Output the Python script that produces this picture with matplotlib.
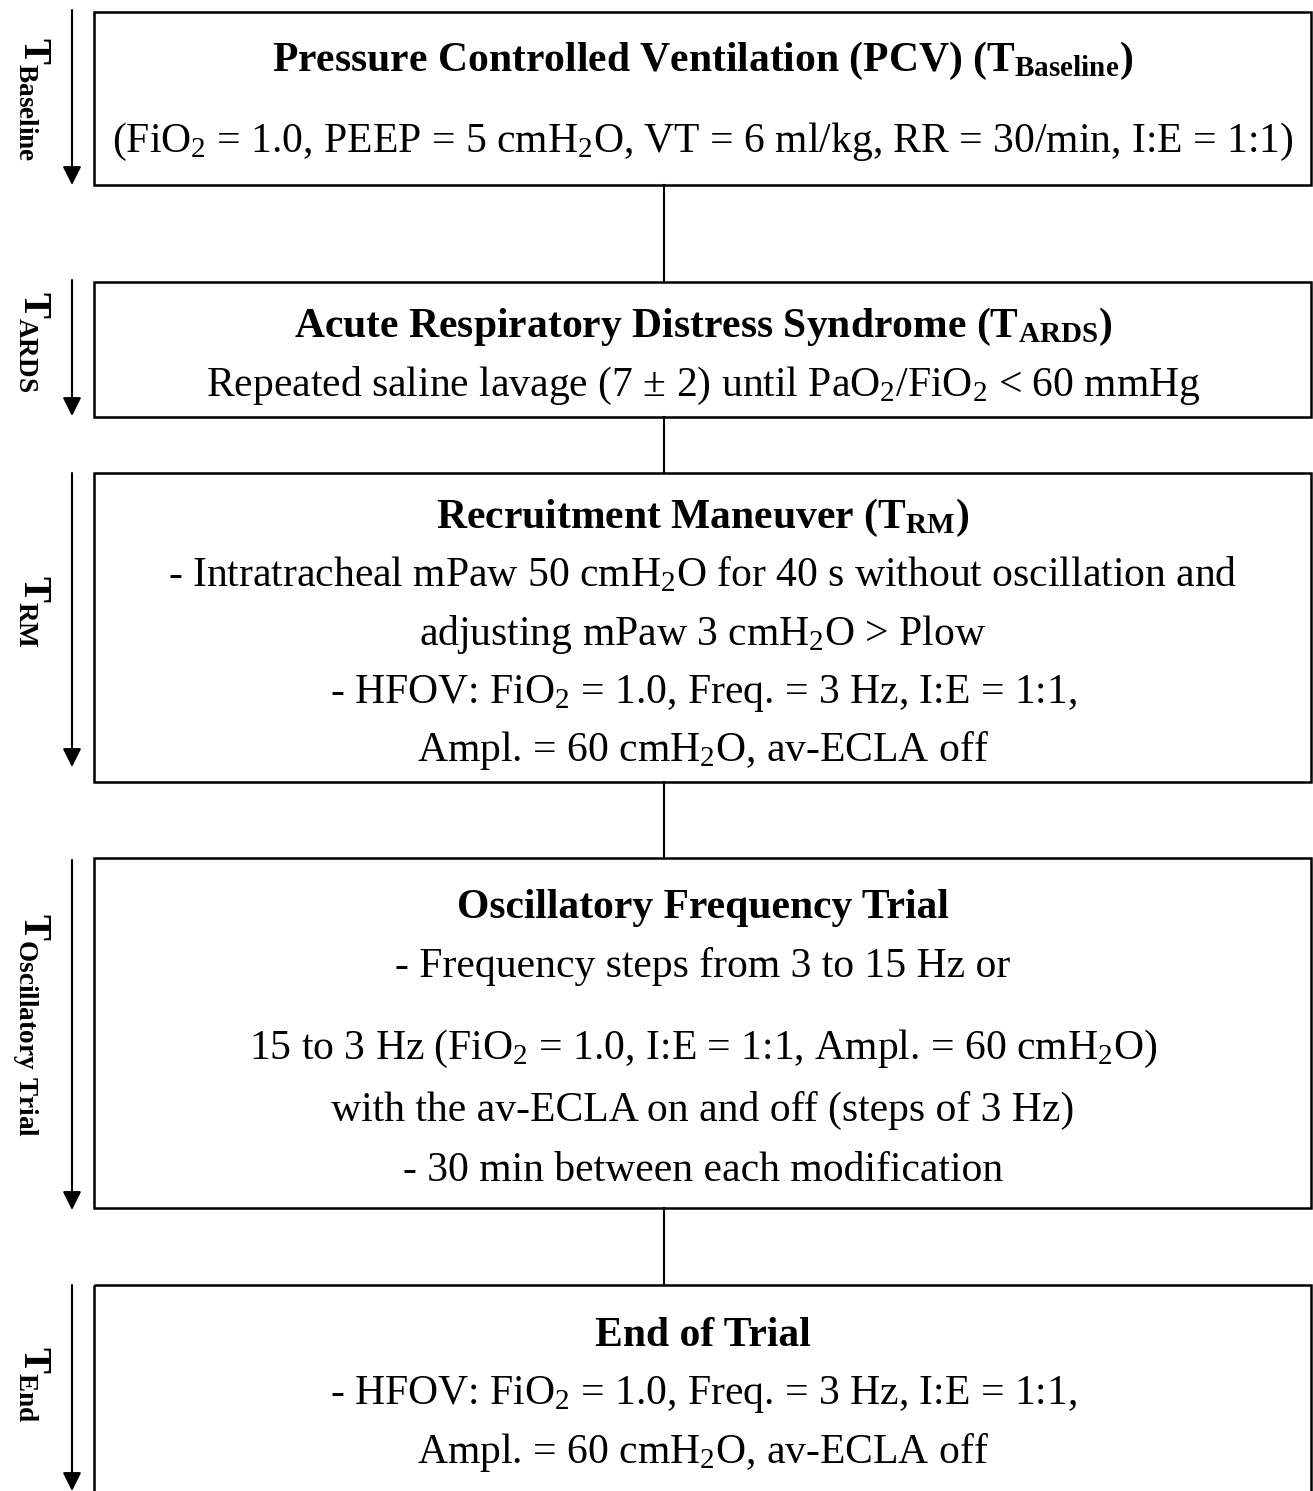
import matplotlib.pyplot as plt
from matplotlib.patches import Rectangle

plt.rcParams['font.family'] = ['Liberation Serif', 'DejaVu Serif']
plt.rcParams['mathtext.default'] = 'regular'

W, H = 1313, 1491

# box extents (top, bottom) in pixels
box_top = [12, 282, 473, 858, 1285]
box_bottom = [185, 417, 782, 1208, 1510]

titles = [
    r'Pressure Controlled Ventilation (PCV) (T$_{Baseline}$)',
    r'Acute Respiratory Distress Syndrome (T$_{ARDS}$)',
    r'Recruitment Maneuver (T$_{RM}$)',
    'Oscillatory Frequency Trial',
    'End of Trial',
]
title_y = [71, 337, 528, 918, 1346]

body = [
    [r'(FiO$_2$ = 1.0, PEEP = 5 cmH$_2$O, VT = 6 ml/kg, RR = 30/min, I:E = 1:1)'],
    [r'Repeated saline lavage (7 $\pm$ 2) until PaO$_2$/FiO$_2$ < 60 mmHg'],
    [r'- Intratracheal mPaw 50 cmH$_2$O for 40 s without oscillation and',
     r'adjusting mPaw 3 cmH$_2$O > Plow',
     r'- HFOV: FiO$_2$ = 1.0, Freq. = 3 Hz, I:E = 1:1,',
     r'Ampl. = 60 cmH$_2$O, av-ECLA off'],
    [r'- Frequency steps from 3 to 15 Hz or',
     r'15 to 3 Hz (FiO$_2$ = 1.0, I:E = 1:1, Ampl. = 60 cmH$_2$O)',
     'with the av-ECLA on and off (steps of 3 Hz)',
     '- 30 min between each modification'],
    [r'- HFOV: FiO$_2$ = 1.0, Freq. = 3 Hz, I:E = 1:1,',
     r'Ampl. = 60 cmH$_2$O, av-ECLA off'],
]
body_y = [[152], [396], [586, 645, 703, 761], [977, 1059, 1121, 1181], [1404, 1463]]

side_labels = [r'T$_{Baseline}$', r'T$_{ARDS}$', r'T$_{RM}$',
               r'T$_{Oscillatory\ Trial}$', r'T$_{End}$']
side_y = [37, 291, 575, 913, 1346]
arrow_top = [10, 280, 473, 860, 1285]
arrow_end = [185, 416, 767, 1210, 1491]

fig = plt.figure(figsize=(W / 100, H / 100), dpi=100)
ax = fig.add_axes([0, 0, 1, 1])
ax.set_xlim(0, W)
ax.set_ylim(H, 0)
ax.axis('off')

x0, x1 = 94, 1311
xc = 703
for i in range(5):
    ax.add_patch(Rectangle((x0, box_top[i]), x1 - x0, box_bottom[i] - box_top[i],
                           fill=False, lw=1.8, ec='black'))
    ax.text(xc, title_y[i], titles[i], ha='center', va='baseline',
            fontsize=30, fontweight='bold')
    for line, y in zip(body[i], body_y[i]):
        ax.text(xc, y, line, ha='center', va='baseline', fontsize=30)
    # connector to next box
    if i < 4:
        ax.plot([664, 664], [box_bottom[i], box_top[i + 1]], color='black', lw=1.5)
    # timeline arrow
    ax.annotate('', xy=(72, arrow_end[i]), xytext=(72, arrow_top[i]),
                arrowprops=dict(arrowstyle='-|>', color='black', lw=1.5,
                                mutation_scale=28, shrinkA=0, shrinkB=0))
    ax.text(24, side_y[i], side_labels[i], rotation=-90, ha='left', va='baseline',
            fontsize=28, fontweight='bold', rotation_mode='anchor')

fig.savefig('out.png', dpi=100, facecolor='white')
